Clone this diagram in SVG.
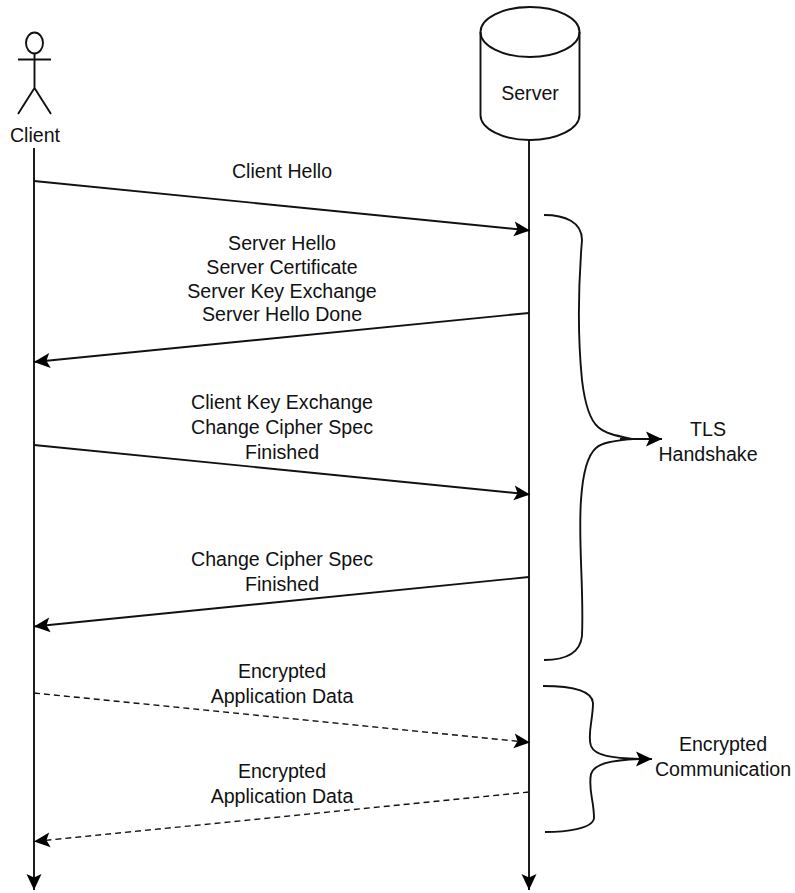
<svg xmlns="http://www.w3.org/2000/svg" width="795" height="893" viewBox="0 0 795 893">
<style>
text{font-family:"Liberation Sans",Arial,sans-serif;font-size:19.6px;fill:#111;text-anchor:middle}
.l{fill:none;stroke:#111;stroke-width:1.9}
.a{marker-end:url(#m)}
.d{stroke-dasharray:6 4;stroke-width:1.4}
</style>
<defs>
<marker id="m" markerUnits="userSpaceOnUse" markerWidth="18" markerHeight="16" refX="16" refY="8" orient="auto" viewBox="0 0 18 16"><path d="M0 0.500L16 8L0 15.500L3.500 8Z" fill="#000"/></marker>
</defs>
<rect width="795" height="893" fill="#fff"/>
<g id="connectors">
<path class="l a" d="M34 148V890"/>
<path class="l a" d="M529 139V890"/>
<path class="l a" d="M34 181L530 230.500"/>
<path class="l a" d="M529 313L34 362"/>
<path class="l a" d="M34 445L530 494.500"/>
<path class="l a" d="M529 577L34 626.500"/>
<path class="l a d" d="M34 693L530 742.500"/>
<path class="l a d" d="M529 792L34 841.500"/>
<path class="l" d="M544 215C565 215 582 222 582 240C578 290 578 340 582 380C585 405 590 420 598 427C606 434 618 436 632 439"/>
<path class="l" d="M544 660C565 660 580 654 582 636C584 590 578 540 581 500C583 470 588 455 596 448C603 442 615 441 632 439"/>
<path class="l a" d="M620 439H662"/>
<path class="l" d="M543 686C565 686 592 689 593 703C593 720 587 735 591 746C595 756 612 758 640 759"/>
<path class="l" d="M545 832C565 832 593 829 594 818C594 800 588 790 591 774C594 764 610 760 640 759"/>
<path class="l a" d="M625 759H652"/>
</g>
<g id="client">
<ellipse class="l" cx="34.500" cy="43" rx="8.500" ry="10.500"/>
<path class="l" d="M34.500 53V88M18 59.500H51M18 114L34.500 88L51 114"/>
<text x="35" y="141.500">Client</text>
</g>
<g id="server">
<ellipse class="l" cx="530" cy="32" rx="49.500" ry="25"/>
<path class="l" d="M480.500 32V115A49.500 25 0 0 0 579.500 115V32"/>
<text x="530" y="99.500">Server</text>
</g>
<g id="label-client-hello"><text x="282" y="177.500">Client Hello</text></g>
<g id="label-server-hello">
<text x="282" y="249.500">Server Hello</text>
<text x="282" y="273.500">Server Certificate</text>
<text x="282" y="297.500">Server Key Exchange</text>
<text x="282" y="320.500">Server Hello Done</text>
</g>
<g id="label-client-key">
<text x="282" y="408.500">Client Key Exchange</text>
<text x="282" y="433.500">Change Cipher Spec</text>
<text x="282" y="458.500">Finished</text>
</g>
<g id="label-change-cipher">
<text x="282" y="565.500">Change Cipher Spec</text>
<text x="282" y="590.500">Finished</text>
</g>
<g id="label-app-1">
<text x="282" y="677.500">Encrypted</text>
<text x="282" y="702.500">Application Data</text>
</g>
<g id="label-app-2">
<text x="282" y="777.500">Encrypted</text>
<text x="282" y="802.500">Application Data</text>
</g>
<g id="label-tls">
<text x="708" y="435.500">TLS</text>
<text x="708" y="460.500">Handshake</text>
</g>
<g id="label-encrypted">
<text x="723" y="750.500">Encrypted</text>
<text x="723" y="775.500">Communication</text>
</g>
</svg>
